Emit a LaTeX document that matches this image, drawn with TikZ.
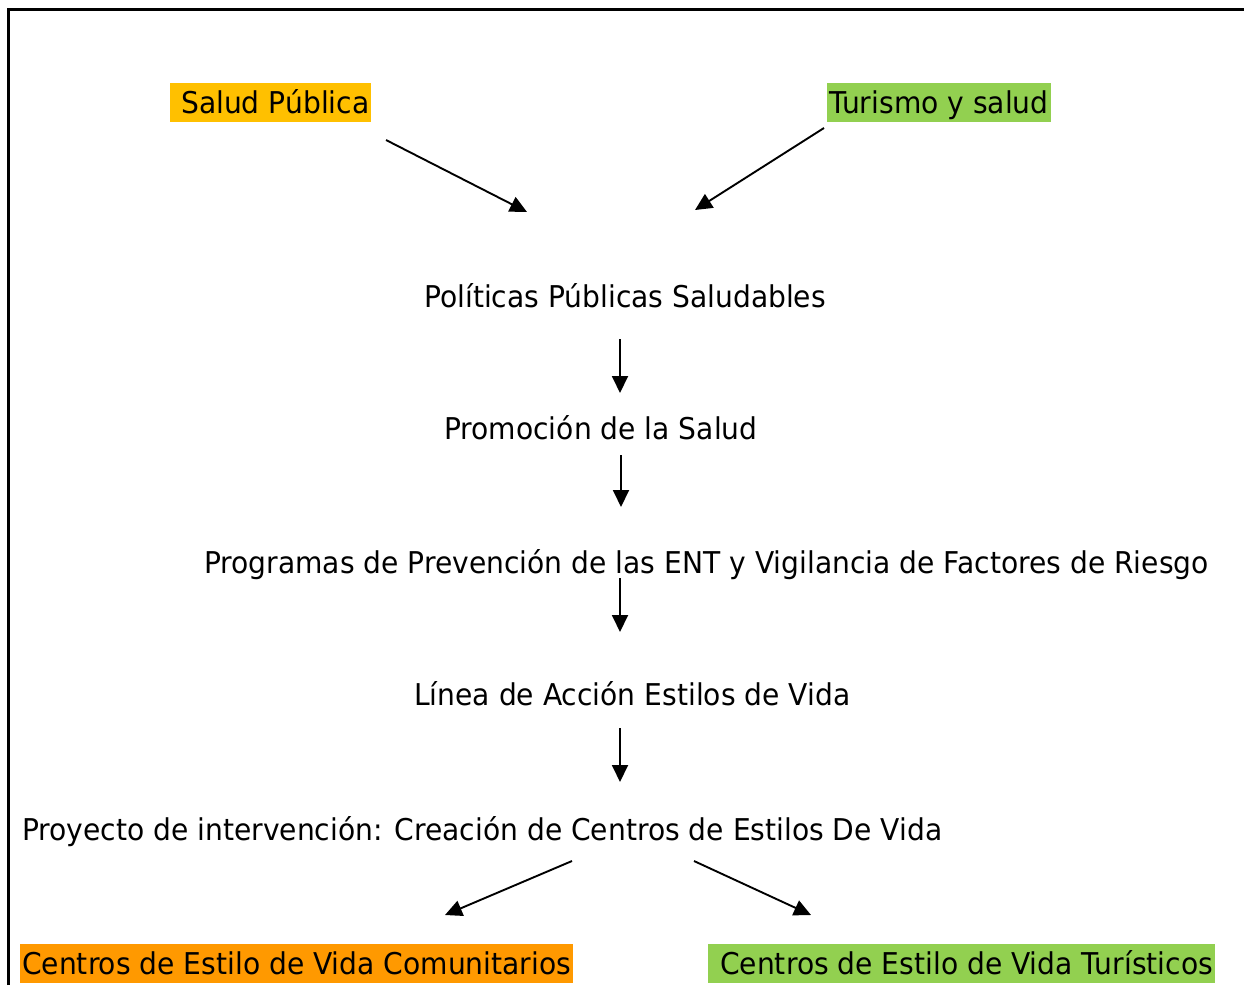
\documentclass[tikz,border=0pt]{standalone}
\usepackage{fontspec}
\setmainfont[FakeStretch=0.938]{DejaVu Sans}
\usetikzlibrary{arrows.meta}
\definecolor{gold}{HTML}{FFC000}
\definecolor{lgreen}{HTML}{92D050}
\definecolor{orng}{HTML}{FF9900}
\tikzset{
  lbl/.style={anchor=base west, inner sep=0pt, font=\fontsize{30pt}{36pt}\selectfont},
  hl/.style={lbl, fill=#1, text height=30pt, text depth=9pt},
  arr/.style={line width=1.9pt, -{Triangle[length=17pt,width=16pt]}},
  frame/.style={line width=3pt}
}
\begin{document}
\begin{tikzpicture}[x=1pt,y=-1pt]
\useasboundingbox (0,0) rectangle (1244,985);
\draw[frame] (8,985) -- (8,9.5) -- (1244,9.5);

\node[hl=gold] (sp) at (170,113) {\hspace*{11pt}Salud Pública\hspace*{2pt}};
\node[hl=lgreen] (ts) at (827,113) {\hspace*{2pt}Turismo y salud\hspace*{2pt}};
\node[lbl] (pps) at (424,307) {Políticas Públicas Saludables};
\node[lbl] (ps) at (444,439) {Promoción de la Salud};
\node[lbl] (pp) at (204,573) {Programas de Prevención de las ENT y Vigilancia de Factores de Riesgo};
\node[lbl] (la) at (414,705) {Línea de Acción Estilos de Vida};
\node[lbl] (pi) at (22,840) {Proyecto de intervención: Creación de Centros de Estilos De Vida};
\node[hl=orng] (cc) at (20,974) {\hspace*{2pt}Centros de Estilo de Vida Comunitarios\hspace*{2pt}};
\node[hl=lgreen] (ct) at (708,974) {\hspace*{12pt}Centros de Estilo de Vida Turísticos\hspace*{2pt}};

\coordinate (a1s) at (386,140); \coordinate (a1e) at (527,212);
\coordinate (a2s) at (824,128); \coordinate (a2e) at (695,210);
\coordinate (a3s) at (620,339); \coordinate (a3e) at (620,393);
\coordinate (a4s) at (621,455); \coordinate (a4e) at (621,507);
\coordinate (a5s) at (620,578); \coordinate (a5e) at (620,632);
\coordinate (a6s) at (620,728); \coordinate (a6e) at (620,782);
\coordinate (a7s) at (572,861); \coordinate (a7e) at (445,915);
\coordinate (a8s) at (694,861); \coordinate (a8e) at (811,915);
\draw[arr] (a1s) -- (a1e);
\draw[arr] (a2s) -- (a2e);
\draw[arr] (a3s) -- (a3e);
\draw[arr] (a4s) -- (a4e);
\draw[arr] (a5s) -- (a5e);
\draw[arr] (a6s) -- (a6e);
\draw[arr] (a7s) -- (a7e);
\draw[arr] (a8s) -- (a8e);
\end{tikzpicture}
\end{document}
